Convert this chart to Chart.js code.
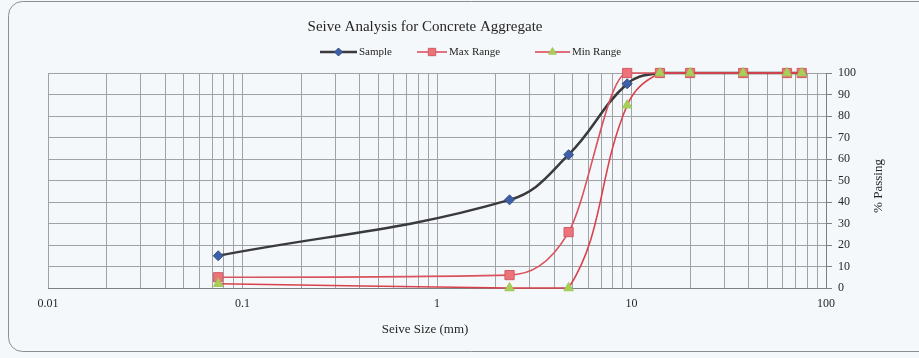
<!DOCTYPE html>
<html>
<head>
<meta charset="utf-8">
<title>Seive Analysis for Concrete Aggregate</title>
<script src="https://cdn.jsdelivr.net/npm/chart.js@4/dist/chart.umd.min.js"></script>
<style>
  html, body { margin: 0; padding: 0; background: #f5f8fa; }
  #wrap { width: 919px; height: 358px; position: relative; }
</style>
</head>
<body>
<div id="wrap"><canvas id="chart"></canvas></div>
<script>
// sieve sizes (mm) and % passing
const sieveSizes = [0.075, 2.36, 4.75, 9.5, 14, 20, 37.5, 63, 75];
const samplePassing = [15, 41, 62, 95, 100, 100, 100, 100, 100];
const maxRange = [5, 6, 26, 100, 100, 100, 100, 100, 100];
const minRange = [2, 0, 0, 85, 100, 100, 100, 100, 100];

// axis ticks
const xTickLabels = [0.01, 0.1, 1, 10, 100];
const yTicks = [0, 10, 20, 30, 40, 50, 60, 70, 80, 90, 100];

const SERIF = '"Liberation Serif", "Times New Roman", serif';
const GRID = '#a0a3a6';

// pair sizes with values for the x/y datasets
function toPoints(values) {
  return sieveSizes.map((s, i) => ({ x: s, y: values[i] }));
}

// minor grid: 1..9 inside every decade, plus the last decade mark
function logGridValues() {
  const out = [];
  for (let i = 0; i < xTickLabels.length - 1; i++) {
    for (let k = 1; k <= 9; k++) {
      out.push(Math.round(xTickLabels[i] * k * 1e6) / 1e6);
    }
  }
  out.push(xTickLabels[xTickLabels.length - 1]);
  return out;
}

const datasets = [
  {
    label: 'Sample',
    data: toPoints(samplePassing),
    borderColor: '#3a3a3c',
    borderWidth: 2.5,
    pointStyle: 'rectRot',
    pointRadius: 5,
    pointBackgroundColor: '#3f60a6',
    pointBorderColor: '#34528f',
    pointBorderWidth: 1,
    tension: 0.4,
    clip: false,
    order: 2
  },
  {
    label: 'Max Range',
    data: toPoints(maxRange),
    borderColor: '#d9525d',
    borderWidth: 1.6,
    pointStyle: 'rect',
    pointRadius: 6.5,
    pointBackgroundColor: '#ec737a',
    pointBorderColor: '#d45a63',
    pointBorderWidth: 1,
    cubicInterpolationMode: 'monotone',
    clip: false,
    order: 1
  },
  {
    label: 'Min Range',
    data: toPoints(minRange),
    borderColor: '#d8414c',
    borderWidth: 1.6,
    pointStyle: 'triangle',
    pointRadius: 5.5,
    pointBackgroundColor: '#a8cf5a',
    pointBorderColor: '#a0c855',
    pointBorderWidth: 1,
    tension: 0.4,
    clip: false,
    order: 0
  }
];

// title, legend, axis titles and the outer frame, placed like the Excel original
const decorations = {
  id: 'decorations',
  beforeDraw(chart) {
    const ctx = chart.ctx;
    ctx.save();
    ctx.fillStyle = '#f5f8fa';
    ctx.fillRect(0, 0, chart.width, chart.height);
    ctx.strokeStyle = '#8c8f92';
    ctx.lineWidth = 1;
    ctx.beginPath();
    ctx.roundRect(8.5, 1.5, 940, 350, 14);
    ctx.stroke();
    ctx.restore();
  },
  afterDraw(chart) {
    const ctx = chart.ctx;
    ctx.save();
    ctx.fillStyle = '#262626';
    ctx.textBaseline = 'middle';
    ctx.textAlign = 'center';

    ctx.font = '15px ' + SERIF;
    ctx.fillText('Seive Analysis for Concrete Aggregate', 425, 27);

    ctx.font = '13px ' + SERIF;
    ctx.fillText('Seive Size (mm)', 425, 330);

    ctx.save();
    ctx.translate(879, 186);
    ctx.rotate(-Math.PI / 2);
    ctx.fillText('% Passing', 0, 0);
    ctx.restore();

    // legend: line segment with marker, then the label
    const items = [
      { ds: chart.data.datasets[0], x0: 320, x1: 357 },
      { ds: chart.data.datasets[1], x0: 417, x1: 447 },
      { ds: chart.data.datasets[2], x0: 535, x1: 570 }
    ];
    const ly = 52;
    ctx.font = '11px ' + SERIF;
    ctx.textAlign = 'left';
    items.forEach(it => {
      const ds = it.ds;
      ctx.strokeStyle = ds.borderColor;
      ctx.lineWidth = ds.borderWidth;
      ctx.beginPath();
      ctx.moveTo(it.x0, ly);
      ctx.lineTo(it.x1, ly);
      ctx.stroke();
      ctx.fillStyle = ds.pointBackgroundColor;
      ctx.strokeStyle = ds.pointBorderColor;
      ctx.lineWidth = 1;
      Chart.helpers.drawPoint(ctx, {
        pointStyle: ds.pointStyle,
        radius: ds.pointRadius * 0.8,
        rotation: 0,
        borderWidth: 1
      }, (it.x0 + it.x1) / 2, ly);
      ctx.fillStyle = '#262626';
      ctx.fillText(ds.label, it.x1 + 2, ly);
    });
    ctx.restore();
  }
};

new Chart(document.getElementById('chart'), {
  type: 'line',
  data: { datasets: datasets },
  options: {
    responsive: true,
    maintainAspectRatio: false,
    animation: false,
    layout: { padding: { left: 48, top: 73, right: 0, bottom: 0 } },
    plugins: {
      legend: { display: false },
      title: { display: false },
      tooltip: { enabled: false }
    },
    scales: {
      x: {
        type: 'logarithmic',
        min: xTickLabels[0],
        max: xTickLabels[xTickLabels.length - 1],
        afterBuildTicks(scale) {
          scale.ticks = logGridValues().map(v => ({ value: v }));
        },
        afterFit(scale) { scale.height = 70; },
        grid: { color: GRID, lineWidth: 1, drawTicks: false },
        border: { color: '#7d8083', width: 1 },
        ticks: {
          autoSkip: false,
          maxRotation: 0,
          padding: 9,
          color: '#262626',
          font: { family: SERIF, size: 12 },
          callback(value) {
            return xTickLabels.includes(value) ? String(value) : '';
          }
        }
      },
      y: {
        position: 'right',
        min: yTicks[0],
        max: yTicks[yTicks.length - 1],
        afterBuildTicks(scale) {
          scale.ticks = yTicks.map(v => ({ value: v }));
        },
        afterFit(scale) { scale.width = 93; },
        grid: { color: GRID, lineWidth: 1, tickLength: 6, tickColor: '#7d8083' },
        border: { color: '#7d8083', width: 1 },
        ticks: {
          padding: 6,
          color: '#262626',
          font: { family: SERIF, size: 12 }
        }
      }
    }
  },
  plugins: [decorations]
});
</script>
</body>
</html>
